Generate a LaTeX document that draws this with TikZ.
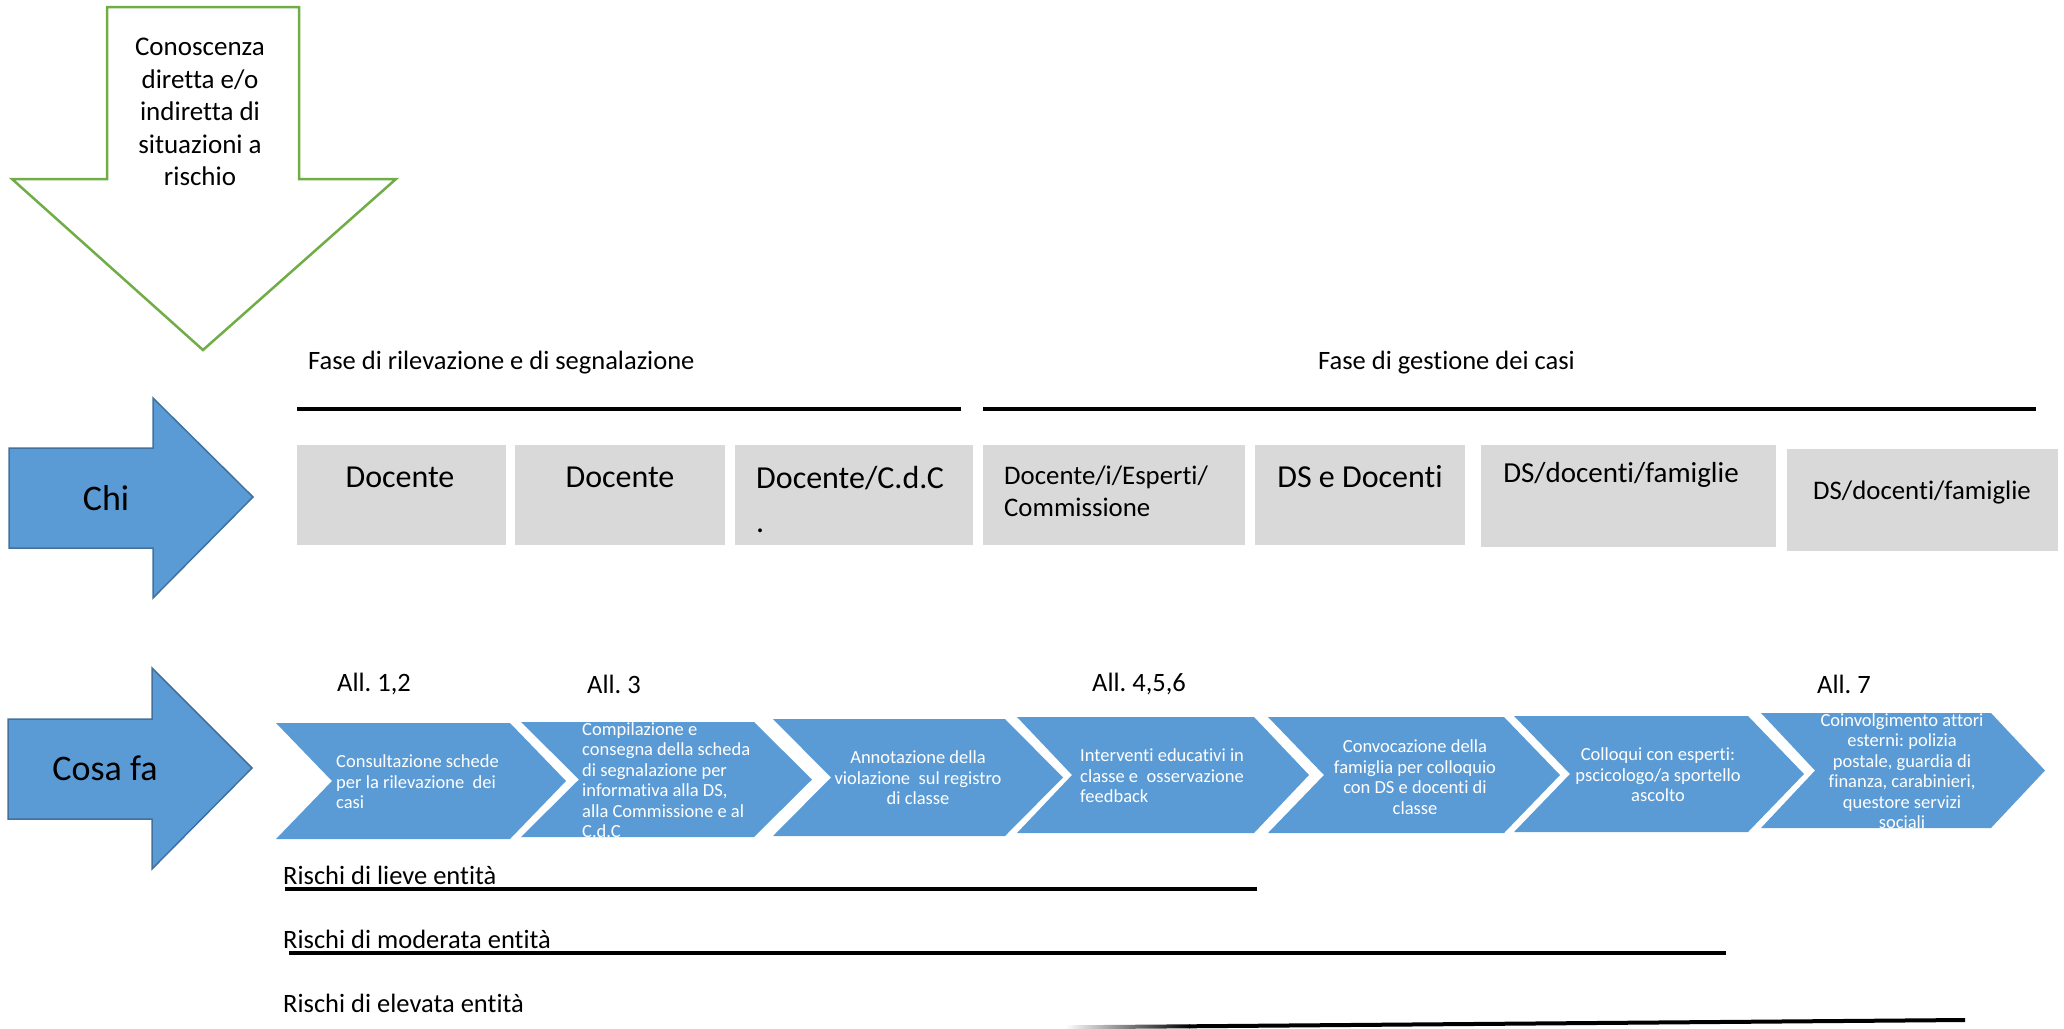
\documentclass[tikz,border=0pt]{standalone}
\usepackage{fontspec}
\setmainfont{Carlito}[Ligatures=NoCommon, RawFeature={-liga;-clig;-calt;-dlig}]
\frenchspacing
\definecolor{blueA}{HTML}{5B9BD5}
\definecolor{blueB}{HTML}{41719C}
\definecolor{greenA}{HTML}{70AD47}
\definecolor{grayA}{HTML}{D9D9D9}
\begin{document}
\begin{tikzpicture}[x=1pt,y=-1pt,
  lbl/.style={inner sep=0, anchor=west, font=\fontsize{26.5}{32}\selectfont},
  boxtxt/.style={inner sep=0, font=\fontsize{32}{44}\selectfont},
  chevtxt/.style={inner sep=0, text=white, font=\fontsize{18.5}{20.5}\selectfont},
  blockarrow/.style={fill=blueA, draw=blueB, line width=1.5},
  graybox/.style={fill=grayA, draw=none},
  thickline/.style={line width=4, black},
  chevfill/.style={fill=blueA, draw=none}]
\useasboundingbox (0,0) rectangle (2064,1028);

% green down arrow
\draw[greenA, line width=2.5, fill=white, line join=miter]
  (107,7) -- (299,7) -- (299,179) -- (396,179) -- (203,350) -- (12,179) -- (107,179) -- cycle;
\node[inner sep=0, align=center, font=\fontsize{27}{32.5}\selectfont] (know) at (200,112)
  {Conoscenza\\diretta e/o\\indiretta di\\situazioni a\\rischio};

% phase labels and lines
\node[lbl] (fase1) at (308,363) {Fase di rilevazione e di segnalazione};
\node[lbl] (fase2) at (1318,363) {Fase di gestione dei casi};
\draw[thickline] (297,409) -- (961,409);
\draw[thickline] (983,409) -- (2036,409);

% Chi arrow
\draw[blockarrow] (9,448) -- (153,448) -- (153,398) -- (253,497) -- (153,598) -- (153,548) -- (9,548) -- cycle;
\node[inner sep=0, font=\fontsize{36}{42}\selectfont] (chi) at (106,498) {Chi};

% Chi boxes
\fill[graybox] (297,445) rectangle (506,545);
\fill[graybox] (515,445) rectangle (725,545);
\fill[graybox] (735,445) rectangle (973,545);
\fill[graybox] (983,445) rectangle (1245,545);
\fill[graybox] (1255,445) rectangle (1465,545);
\fill[graybox] (1481,445) rectangle (1776,547);
\fill[graybox] (1787,449) rectangle (2058,551);

\node[boxtxt] (b1) at (400,477) {Docente};
\node[boxtxt] (b2) at (620,477) {Docente};
\node[boxtxt, anchor=west, align=left] (b3) at (756,500) {Docente/C.d.C\\.};
\node[inner sep=0, anchor=west, align=left, font=\fontsize{26.8}{32}\selectfont] (b4) at (1004,491) {Docente/i/Esperti/\\Commissione};
\node[boxtxt] (b5) at (1360,477) {DS e Docenti};
\node[inner sep=0, font=\fontsize{29}{35}\selectfont] (b6) at (1621,475) {DS/docenti/famiglie};
\node[inner sep=0, font=\fontsize{26.8}{32}\selectfont] (b7) at (1922,492) {DS/docenti/famiglie};

% All. labels
\node[lbl] (a1) at (337,684) {All. 1,2};
\node[lbl] (a2) at (587,684) {All. 3};
\node[lbl] (a3) at (1092,684) {All. 4,5,6};
\node[lbl] (a4) at (1817,684) {All. 7};

% Cosa fa arrow
\draw[blockarrow] (8,719) -- (152,719) -- (152,668) -- (252,768) -- (152,869) -- (152,819) -- (8,819) -- cycle;
\node[inner sep=0, font=\fontsize{36}{42}\selectfont] (cosa) at (105,768) {Cosa fa};

% chevrons: L, R, tip, T, B
\foreach \L/\R/\P/\T/\B in {276/510/566/723/839, 521/754/812/722/837, 773/1005/1063/719/836,
  1017/1254/1309/717/833, 1268/1504/1560/717/833, 1514/1748/1804/716/832, 1761/1991/2045/713/828}{
  \fill[chevfill] (\L,\T) -- (\R,\T) -- (\P,{(\T+\B)/2}) -- (\R,\B) -- (\L,\B) -- ({\L+\P-\R},{(\T+\B)/2}) -- cycle;
}
\node[chevtxt, anchor=west, align=left] (c1) at (336,782) {Consultazione schede\\per la rilevazione\ \ dei\\casi};
\node[chevtxt, anchor=west, align=left] (c2) at (582,780) {Compilazione e\\consegna della scheda\\di segnalazione per\\informativa alla DS,\\alla Commissione e al\\C.d.C};
\node[chevtxt, align=center] (c3) at (918,778) {Annotazione della\\violazione\ \ sul registro\\di classe};
\node[chevtxt, anchor=west, align=left] (c4) at (1080,776) {Interventi educativi in\\classe e\ \ osservazione\\feedback};
\node[chevtxt, align=center] (c5) at (1415,777) {Convocazione della\\famiglia per colloquio\\con DS e docenti di\\classe};
\node[chevtxt, align=center] (c6) at (1658,775) {Colloqui con esperti:\\pscicologo/a sportello\\ascolto};
\node[chevtxt, align=center] (c7) at (1902,771) {Coinvolgimento attori\\esterni: polizia\\postale, guardia di\\finanza, carabinieri,\\questore servizi\\sociali};

% risk levels
\node[lbl] (r1) at (283,875) {Rischi di lieve entità};
\draw[thickline] (285,889) -- (1257,889);
\node[lbl] (r2) at (283,939) {Rischi di moderata entità};
\draw[thickline] (289,953) -- (1726,953);
\node[lbl] (r3) at (283,1003) {Rischi di elevata entità};
\shade[left color=white, right color=black] (1065,1025.3) -- (1190,1024.3) -- (1190,1028.3) -- (1065,1029.3) -- cycle;
\draw[thickline] (1189,1026.3) -- (1965,1020);
\end{tikzpicture}
\end{document}
